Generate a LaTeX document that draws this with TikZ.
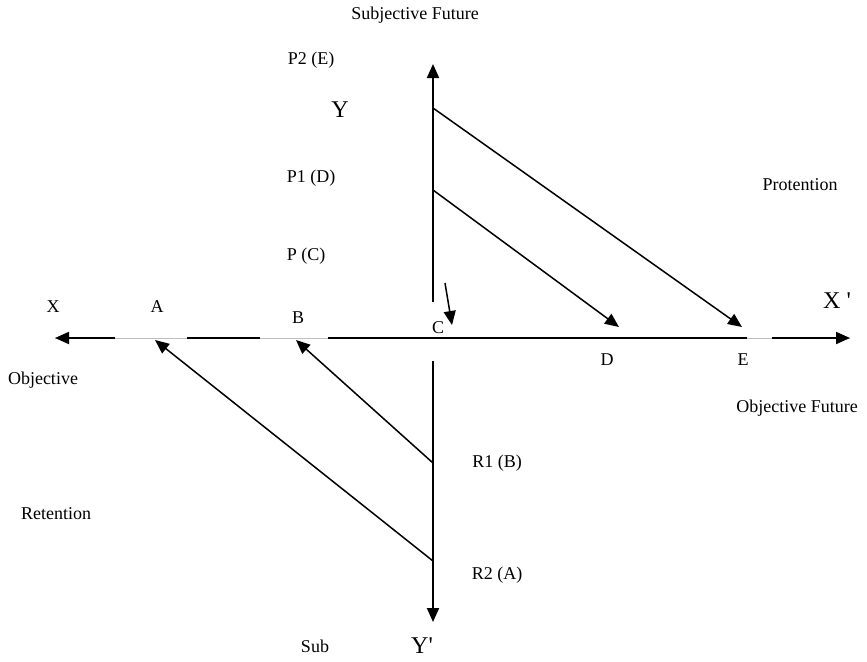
\documentclass[tikz,border=0pt]{standalone}
\usepackage{fontspec}
\setmainfont{Liberation Serif}[Ligatures=TeXOff]
\usetikzlibrary{arrows.meta}
\begin{document}
\begin{tikzpicture}[x=1pt,y=-1pt,
  lbl/.style={font=\fontsize{18}{20}\selectfont, inner sep=0pt},
  big/.style={font=\fontsize{24}{26}\selectfont, inner sep=0pt},
  axis/.style={line width=2pt},
  tip/.style={-{Triangle[length=14pt,width=12pt]}},
  diag/.style={line width=1.5pt,-{Triangle[length=14pt,width=12pt]}},
  faint/.style={line width=1pt, draw=black!25}]
\useasboundingbox (0,0) rectangle (867,661);
% coordinates
\coordinate (ytop) at (433,64);
\coordinate (yupend) at (433,302);
\coordinate (ylowstart) at (433,361);
\coordinate (ybot) at (433,622);
\coordinate (xl) at (55,338);
\coordinate (xr) at (850,338);
\coordinate (h1) at (115,338);
\coordinate (h2) at (187,338);
\coordinate (h3) at (260,338);
\coordinate (h4) at (328,338);
\coordinate (h5) at (747,338);
\coordinate (h6) at (772,338);
\coordinate (p2) at (433,108);
\coordinate (p1) at (433,190);
\coordinate (r1) at (433,463);
\coordinate (r2) at (433,561);
\coordinate (tA) at (155,340);
\coordinate (tB) at (296,340);
\coordinate (tD) at (619,327);
\coordinate (tE) at (742,327);
\coordinate (cs) at (445,283);
\coordinate (ce) at (452,325);
% axes
\draw[faint] (xl) -- (xr);
\draw[axis,tip] (h1) -- (xl);
\draw[axis] (h2) -- (h3);
\draw[axis] (h4) -- (h5);
\draw[axis,tip] (h6) -- (xr);
\draw[axis,tip] (yupend) -- (ytop);
\draw[axis,tip] (ylowstart) -- (ybot);
% diagonals
\draw[diag] (p2) -- (tE);
\draw[diag] (p1) -- (tD);
\draw[diag] (cs) -- (ce);
\draw[diag] (r1) -- (tB);
\draw[diag] (r2) -- (tA);
% labels
\node[lbl] (sf) at (415,15) {Subjective Future};
\node[lbl] (lp2) at (311,60) {P2 (E)};
\node[big] (lY) at (340,110) {Y};
\node[lbl] (lp1) at (311,178) {P1 (D)};
\node[lbl] (prot) at (800,185) {Protention};
\node[lbl] (lpc) at (306,256) {P (C)};
\node[lbl] (lX) at (53,307) {X};
\node[lbl] (lA) at (157,307) {A};
\node[lbl] (lB) at (298,318) {B};
\node[lbl] (lC) at (438,328) {C};
\node[big] (lXp) at (837,301) {X '};
\node[lbl] (lD) at (607,360) {D};
\node[lbl] (lE) at (743,360) {E};
\node[lbl] (obj) at (43,380) {Objective};
\node[lbl] (objf) at (797,408) {Objective Future};
\node[lbl] (lr1) at (497,463) {R1 (B)};
\node[lbl] (ret) at (56,514) {Retention};
\node[lbl] (lr2) at (497,575) {R2 (A)};
\node[lbl] (sub) at (315,646) {Sub};
\node[big] (lYp) at (422,646) {Y'};
\end{tikzpicture}
\end{document}
